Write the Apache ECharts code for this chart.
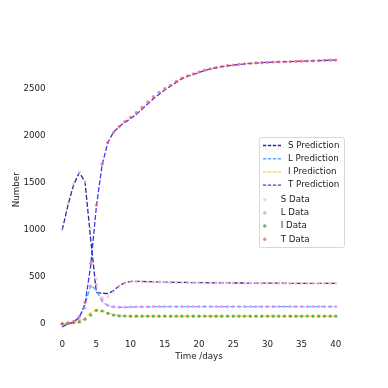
<!DOCTYPE html>
<html><head><meta charset="utf-8">
<script src="https://cdn.jsdelivr.net/npm/echarts@6/dist/echarts.min.js"></script>
<style>html,body{margin:0;padding:0;background:#fff}#c{width:388px;height:388px}</style>
</head><body><div id="c"></div>
<script>
// time points (days), 49 samples from 0 to 40
const times = Array.from({length: 49}, (_, i) => i * 40 / 48);
const xTicks = [0, 5, 10, 15, 20, 25, 30, 35, 40];
const yTicks = [0, 500, 1000, 1500, 2000, 2500];

const sPred = [1000,1260,1480,1610,1515,900,335,328,322,355,405,440,452,453,452,450,448,446,445,444,443,442,441,440,440,439,438,438,437,437,436,436,436,435,435,435,434,434,434,434,433,433,433,433,432,432,432,432,432];
const lPred = [0,5,20,70,200,415,360,240,195,180,178,178,180,182,183,183,184,184,184,184,184,184,184,184,184,184,184,184,184,184,184,184,184,184,184,184,184,184,184,184,184,184,184,184,184,184,184,184,184];
const iPred = [0,2,8,20,60,120,148,138,118,100,90,86,84,83,83,83,83,83,83,83,83,83,83,83,83,83,83,83,83,83,83,83,83,83,83,83,83,83,83,83,83,83,83,83,83,83,83,83,83];
const tPred = [-30,0,20,70,210,620,1250,1690,1930,2040,2100,2145,2185,2230,2285,2340,2395,2445,2490,2530,2570,2610,2635,2655,2675,2697,2713,2726,2737,2747,2754,2761,2767,2772,2776,2780,2783,2786,2788,2790,2792,2794,2796,2798,2800,2802,2804,2806,2808];

const sData = [1000,1280,1490,1615,1515,1020,480,280,290,340,395,430,445,448,450,448,446,445,444,443,442,441,440,440,439,438,438,437,437,436,436,436,435,435,435,434,434,434,434,433,433,433,433,432,432,432,432,432,432];
const lData = [0,5,15,45,170,400,420,260,200,185,180,180,182,183,184,184,185,185,185,185,185,185,185,185,185,185,185,185,185,185,185,185,185,185,185,185,185,185,185,185,185,185,185,185,185,185,185,185,185];
const iData = [5,10,15,22,50,95,145,138,113,95,86,84,83,83,83,83,83,83,83,83,83,83,83,83,83,83,83,83,83,83,83,83,83,83,83,83,83,83,83,83,83,83,83,83,83,83,83,83,83];
const tData = [0,10,25,80,230,645,1266,1700,1930,2037,2099,2152,2199,2248,2305,2362,2418,2465,2503,2539,2580,2615,2640,2660,2680,2700,2715,2728,2738,2748,2755,2762,2768,2773,2777,2780,2783,2786,2788,2790,2792,2794,2796,2798,2800,2802,2804,2806,2808];

const predNames = ['S Prediction','L Prediction','I Prediction','T Prediction'];
const dataNames = ['S Data','L Data','I Data','T Data'];
const predColors = ['#2a2aa0','#5aaaf8','#ffd21a','#3a3af0'];
const dataColors = ['#ffc0cb','#ee88ee','#3c9a3c','#ff5a5a'];

const zip = arr => times.map((t, i) => [t, arr[i]]);
const FONT = 'DejaVu Sans';
const FS = 8.7;
const DASH_ICON = 'path://M0,0h3.3v1.4h-3.3z M4.9,0h3.3v1.4h-3.3z M9.8,0h3.3v1.4h-3.3z M14.7,0h3.3v1.4h-3.3z';

const predSeries = [sPred, lPred, iPred, tPred].map((arr, k) => ({
  name: predNames[k], type: 'line', data: zip(arr), symbol: 'none', smooth: false,
  lineStyle: {color: predColors[k], width: 1.3, type: [5, 2]},
  itemStyle: {color: predColors[k]}, z: 2, animation: false
}));
const dataSeries = [sData, lData, iData, tData].map((arr, k) => ({
  name: dataNames[k], type: 'scatter', data: zip(arr), symbol: 'circle', symbolSize: 3.2,
  itemStyle: {color: dataColors[k], opacity: 0.75}, z: 3, animation: false
}));

const chart = echarts.init(document.getElementById('c'), null, {renderer: 'canvas'});
chart.setOption({
  backgroundColor: '#fff',
  animation: false,
  textStyle: {fontFamily: FONT},
  grid: {left: 48.5, top: 46.5, width: 301, height: 286.5, containLabel: false, outerBoundsMode: 'none'},
  xAxis: {
    type: 'value', min: -2, max: 42,
    axisLine: {show: false}, axisTick: {show: false}, splitLine: {show: false},
    axisLabel: {customValues: xTicks, margin: 7, color: '#222', fontSize: FS, fontFamily: FONT},
    name: 'Time /days', nameLocation: 'middle', nameGap: 19, nameMoveOverlap: false,
    nameTextStyle: {color: '#222', fontSize: FS, fontFamily: FONT}
  },
  yAxis: {
    type: 'value', min: -96, max: 2952,
    axisLine: {show: false}, axisTick: {show: false}, splitLine: {show: false},
    axisLabel: {customValues: yTicks, margin: 3, color: '#222', fontSize: FS, fontFamily: FONT,
      formatter: v => String(v)},
    name: 'Number', nameLocation: 'middle', nameGap: 27, nameMoveOverlap: false,
    nameTextStyle: {color: '#222', fontSize: FS, fontFamily: FONT}
  },
  legend: [
    {
      data: predNames.map(n => ({name: n, icon: DASH_ICON})), orient: 'vertical', left: 263, top: 141, padding: 0,
      itemWidth: 18, itemHeight: 1.4, itemGap: 4.2,
      textStyle: {fontSize: FS, fontFamily: FONT, color: '#222', padding: [0, 0, 0, 2], lineHeight: 9}
    },
    {
      data: dataNames, orient: 'vertical', left: 263, top: 194.8, padding: 0,
      itemWidth: 18, itemHeight: 3.5, itemGap: 3.4, icon: 'circle',
      textStyle: {fontSize: FS, fontFamily: FONT, color: '#222', padding: [0, 0, 0, 2], lineHeight: 9.8}
    }
  ],
  graphic: [{
    type: 'rect', left: 259, top: 137, z: 0,
    shape: {width: 85, height: 110, r: 2},
    style: {fill: 'rgba(255,255,255,0.8)', stroke: '#d8d8d8', lineWidth: 1}
  }],
  series: predSeries.concat(dataSeries)
});
</script></body></html>
